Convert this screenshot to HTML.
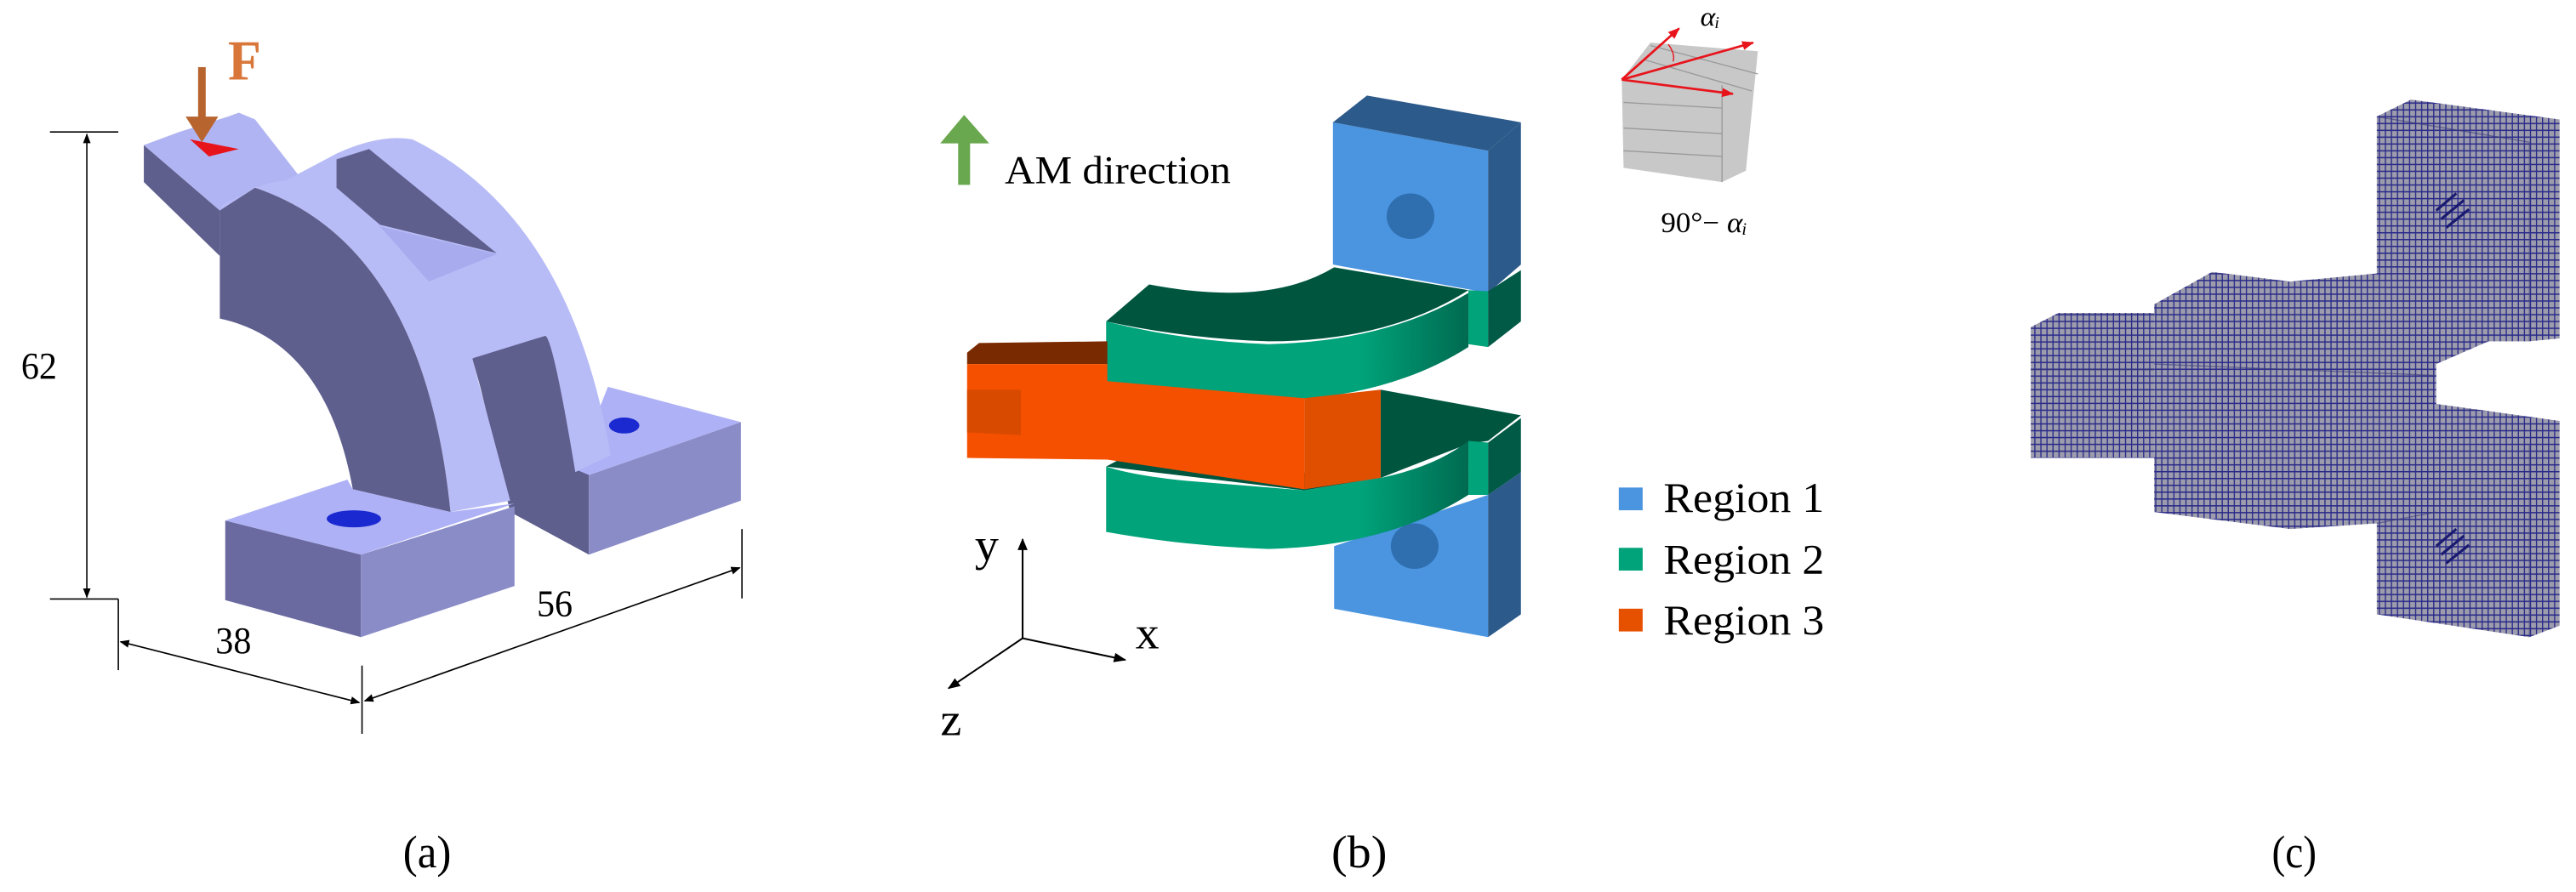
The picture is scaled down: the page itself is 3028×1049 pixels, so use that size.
<!DOCTYPE html>
<html><head><meta charset="utf-8"><style>
html,body{margin:0;padding:0;background:#fff}
svg{display:block}
text{font-family:"Liberation Serif",serif}
</style></head><body>
<svg width="3028" height="1049" viewBox="0 0 3028 1049" xmlns="http://www.w3.org/2000/svg">
<defs>
<marker id="ar" viewBox="0 0 10 10" refX="9" refY="5" markerWidth="7" markerHeight="7" orient="auto-start-reverse"><path d="M0,1 L10,5 L0,9 Z" fill="#000"/></marker>
<marker id="rr" viewBox="0 0 10 10" refX="9" refY="5" markerWidth="5" markerHeight="5" orient="auto"><path d="M0,1 L10,5 L0,9 Z" fill="#e8141c"/></marker>
<linearGradient id="tg" x1="0" x2="1"><stop offset="0" stop-color="#00a37a"/><stop offset="0.7" stop-color="#00a37a"/><stop offset="1" stop-color="#006a50"/></linearGradient>
<pattern id="mesh" width="12" height="12" patternUnits="userSpaceOnUse"><rect width="12" height="12" fill="#9c9cac"/><path d="M0,1 H12 M1,0 V12" stroke="#2a2a8a" stroke-width="2.6"/></pattern>
</defs>
<rect width="3028" height="1049" fill="#fff"/>

<!-- Panel a -->
<g transform="scale(0.638,0.669)">
 <polygon points="265,255 265,320 405,450 405,370" fill="#5f5f8e"/>
 <polygon points="265,255 330,232 420,205 440,198 470,210 560,320 470,330 405,370" fill="#b0b4f2"/>
 <polygon points="350,245 440,262 385,275" fill="#e8141c"/>
 <polygon points="870,620 1010,590 1085,835 1085,975 940,900" fill="#5f5f8e"/>
 <polygon points="1085,835 1365,742 1365,880 1085,975" fill="#8a8cc8"/>
 <polygon points="1060,825 1120,680 1365,742 1085,835" fill="#aeb1f5"/>
 <ellipse cx="1150" cy="748" rx="28" ry="14" fill="#1a2ad0"/>
 <polygon points="870,630 1005,590 1050,820 945,880" fill="#5f5f8e"/>
 <path d="M620,270 Q700,235 760,245 Q1050,380 1125,800 L1060,830 Q1020,600 1005,590 L870,630 L940,880 L830,900 Q780,430 470,330 L410,360 L405,370 Q470,320 525,318 Z" fill="#b8bcf6"/>
 <polygon points="620,280 680,262 915,445 700,395 620,330" fill="#5f5f8e"/>
 <polygon points="700,398 915,447 790,495" fill="#a8acef"/>
 <path d="M405,370 L470,330 Q780,430 830,900 L650,860 Q600,600 405,560 Z" fill="#5f5f8e"/>
 <polygon points="415,915 665,975 665,1120 415,1055" fill="#6a6aa0"/>
 <polygon points="665,975 948,890 948,1030 665,1120" fill="#8a8cc8"/>
 <polygon points="415,915 640,843 650,860 830,900 948,885 665,975" fill="#aeb1f5"/>
 <ellipse cx="652" cy="912" rx="50" ry="15" fill="#1a2ad0"/>
 <rect x="365" y="118" width="14" height="90" fill="#b8642f"/>
 <polygon points="342,205 402,205 372,250" fill="#b8642f"/>
 <text x="420" y="140" font-size="100" font-weight="bold" fill="#d9773a">F</text>
 <g stroke="#000" stroke-width="2.5" fill="none">
  <line x1="92" y1="232" x2="218" y2="232"/>
  <line x1="92" y1="1053" x2="218" y2="1053"/>
  <line x1="218" y1="1053" x2="218" y2="1178"/>
  <line x1="160" y1="236" x2="160" y2="1050" marker-start="url(#ar)" marker-end="url(#ar)"/>
  <line x1="667" y1="1170" x2="667" y2="1290"/>
  <line x1="1367" y1="930" x2="1367" y2="1052"/>
  <line x1="222" y1="1128" x2="662" y2="1235" marker-start="url(#ar)" marker-end="url(#ar)"/>
  <line x1="672" y1="1232" x2="1363" y2="998" marker-start="url(#ar)" marker-end="url(#ar)"/>
 </g>
 <text x="72" y="665" font-size="66" text-anchor="middle">62</text>
 <text x="430" y="1148" font-size="66" text-anchor="middle">38</text>
 <text x="1022" y="1083" font-size="66" text-anchor="middle">56</text>
 <text x="787" y="1525" font-size="80" text-anchor="middle">(a)</text>
</g>

<!-- Panel b -->
<g transform="translate(1000,0) scale(0.7015,0.669)">
 <rect x="180" y="245" width="20" height="80" fill="#6aa84f"/>
 <polygon points="150,252 190,202 232,252" fill="#6aa84f"/>
 <text x="258" y="322" font-size="70">AM direction</text>
 <polygon points="808,215 1068,265 1068,515 808,465" fill="#4a94e0"/>
 <polygon points="808,215 865,168 1123,215 1068,265" fill="#2c5a8a"/>
 <polygon points="1068,265 1123,215 1123,465 1068,515" fill="#2c5a8a"/>
 <circle cx="938" cy="380" r="40" fill="#2f6fb0"/>
 <polygon points="1035,510 1068,512 1068,610 1035,605" fill="#00a37a"/>
 <polygon points="1068,512 1123,475 1123,565 1068,610" fill="#005a45"/>
 <polygon points="810,960 1068,870 1068,1120 810,1070" fill="#4a94e0"/>
 <polygon points="1068,870 1123,830 1123,1080 1068,1120" fill="#2c5a8a"/>
 <circle cx="945" cy="960" r="40" fill="#2f6fb0"/>
 <path d="M428,565 L500,500 Q700,540 810,470 L1035,510 Q900,600 700,600 Q560,595 428,565 Z" fill="#00553f"/>
 <path d="M428,565 Q560,600 700,605 Q900,600 1035,515 L1035,610 Q900,700 700,705 Q560,700 428,670 Z" fill="url(#tg)"/>
 <polygon points="888,685 1123,730 1068,775 1035,780 888,840" fill="#00553f"/>
 <path d="M428,820 L450,808 L888,840 L760,862 Z" fill="#00553f"/>
 <polygon points="195,620 215,603 430,600 430,640 195,640" fill="#7a2a00"/>
 <polygon points="195,640 430,640 430,670 760,700 760,860 430,808 195,805" fill="#f55000"/>
 <polygon points="760,700 888,685 888,840 760,860" fill="#e04e00"/>
 <polygon points="195,685 285,685 285,765 195,760" fill="#d84a00"/>
 <path d="M428,820 Q470,835 560,845 L760,862 L888,840 Q980,820 1035,775 L1035,870 Q900,960 700,965 Q560,960 428,935 Z" fill="url(#tg)"/>
 <polygon points="1035,775 1068,778 1068,870 1035,870" fill="#00a37a"/>
 <polygon points="1068,778 1123,735 1123,830 1068,870" fill="#005a45"/>
 <g stroke="#000" stroke-width="3" fill="none">
  <line x1="288" y1="1122" x2="288" y2="948" marker-end="url(#ar)"/>
  <line x1="288" y1="1122" x2="460" y2="1160" marker-end="url(#ar)"/>
  <line x1="288" y1="1122" x2="164" y2="1210" marker-end="url(#ar)"/>
 </g>
 <text x="228" y="985" font-size="80" text-anchor="middle">y</text>
 <text x="497" y="1140" font-size="80" text-anchor="middle">x</text>
 <text x="168" y="1292" font-size="80" text-anchor="middle">z</text>
 <polygon points="1292,140 1340,75 1520,90 1500,300 1460,320 1295,295" fill="#c8c8c8"/>
 <g stroke="#9a9a9a" stroke-width="2">
  <line x1="1295" y1="180" x2="1460" y2="190"/><line x1="1295" y1="225" x2="1460" y2="235"/><line x1="1295" y1="265" x2="1460" y2="275"/>
  <line x1="1340" y1="80" x2="1520" y2="130"/><line x1="1330" y1="105" x2="1510" y2="160"/>
  <line x1="1460" y1="150" x2="1460" y2="320"/>
 </g>
 <g stroke="#e8141c" stroke-width="4" fill="none">
  <line x1="1292" y1="140" x2="1388" y2="50" marker-end="url(#rr)"/>
  <line x1="1292" y1="140" x2="1512" y2="75" marker-end="url(#rr)"/>
  <line x1="1292" y1="140" x2="1478" y2="165" marker-end="url(#rr)"/>
  <path d="M1370,78 Q1382,95 1378,108" stroke-width="2"/>
 </g>
 <text x="1440" y="45" font-size="48" font-style="italic" text-anchor="middle">αᵢ</text>
 <text x="1430" y="408" font-size="50" text-anchor="middle">90°− <tspan font-style="italic">αᵢ</tspan></text>
 <rect x="1287" y="857" width="40" height="40" fill="#4a94e0"/>
 <rect x="1287" y="963" width="40" height="40" fill="#00a37a"/>
 <rect x="1287" y="1070" width="40" height="40" fill="#e65100"/>
 <text x="1362" y="900" font-size="74">Region 1</text>
 <text x="1362" y="1008" font-size="74">Region 2</text>
 <text x="1362" y="1115" font-size="74">Region 3</text>
 <text x="852" y="1525" font-size="80" text-anchor="middle">(b)</text>
</g>

<!-- Panel c -->
<g transform="translate(2100,0) scale(0.592,0.669)">
 <g fill="url(#mesh)">
  <polygon points="1172,205 1240,175 1535,210 1535,595 1475,600 1172,600"/>
  <polygon points="730,535 845,478 1000,495 1180,480 1420,500 1420,590 1290,640 1290,805 730,805"/>
  <polygon points="485,575 540,550 730,550 730,805 485,805"/>
  <polygon points="730,800 760,785 1290,800 1290,710 1535,740 1535,1100 1475,1120 1172,1080 1172,920 1000,930 730,900"/>
 </g>
 <g stroke="#3a3a7a" stroke-width="2" fill="none" opacity="0.6">
  <line x1="1475" y1="250" x2="1475" y2="600"/><line x1="1172" y1="205" x2="1475" y2="250"/>
  <line x1="730" y1="640" x2="1290" y2="660"/><line x1="485" y1="650" x2="730" y2="650"/>
  <line x1="1475" y1="780" x2="1475" y2="1120"/><line x1="1172" y1="920" x2="1290" y2="900"/>
 </g>
 <g stroke="#1a1a70" stroke-width="5">
  <line x1="1290" y1="370" x2="1330" y2="340"/><line x1="1300" y1="385" x2="1345" y2="352"/><line x1="1310" y1="400" x2="1355" y2="368"/>
  <line x1="1290" y1="960" x2="1330" y2="930"/><line x1="1300" y1="975" x2="1345" y2="942"/><line x1="1310" y1="990" x2="1355" y2="958"/>
 </g>
 <text x="1008" y="1525" font-size="80" text-anchor="middle">(c)</text>
</g>
</svg>
</body></html>
